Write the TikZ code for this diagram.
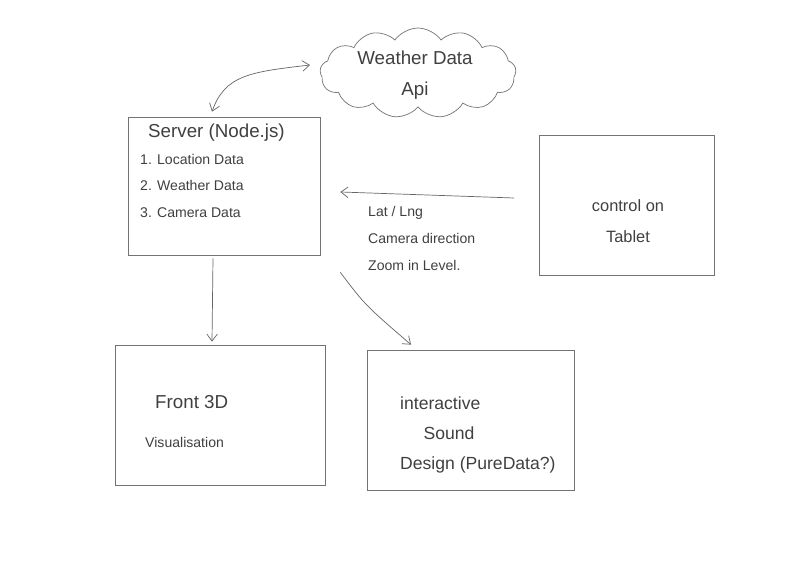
\documentclass[tikz,border=0pt]{standalone}
\usepackage{fontspec}
\setmainfont{Liberation Sans}
\usepackage{tikz}
\usetikzlibrary{calc,shapes.symbols,arrows.meta}
\tikzstyle{sketchbox}=[rectangle,draw=black!55,line width=0.6pt,inner sep=0pt]
\tikzstyle{sketchcloud}=[cloud,cloud puffs=13,cloud puff arc=110,aspect=2.3,
                         draw=black!55,line width=0.6pt,inner sep=0pt]
\tikzstyle{sketchline}=[draw=black!60,line width=0.6pt,-{Straight Barb[length=6pt,width=9pt]}]
\tikzstyle{sketchtext}=[text=black!75,inner sep=0pt]
\newcommand\bigfont{\fontsize{16}{26}\selectfont}
\newcommand\smallfont{\fontsize{12}{22.5}\selectfont}

\begin{document}
\begin{tikzpicture}[x=0.03cm,y=-0.03cm]
    \useasboundingbox[fill=white] (0,0) rectangle (800,573);
    \node [sketchbox,minimum width=192*0.03cm,minimum height=138*0.03cm] (Server) at (224,186) {};
    \node [sketchcloud,minimum width=196*0.03cm,minimum height=90*0.03cm] (Cloud) at (418,73) {};
    \node [sketchbox,minimum width=175*0.03cm,minimum height=140*0.03cm] (Control) at (627,205) {};
    \node [sketchbox,minimum width=210*0.03cm,minimum height=140*0.03cm] (Front) at (220,415) {};
    \node [sketchbox,minimum width=207*0.03cm,minimum height=140*0.03cm] (Sound) at (471,420) {};

    \node [sketchtext,anchor=west,font=\bigfont] (ServerTitle) at (148,133) {Server (Node.js)};
    \node [sketchtext,anchor=north west,align=left,font=\smallfont] (ServerList) at (140,154) {
        1. Location Data\\ 2. Weather Data\\ 3. Camera Data};
    \node [sketchtext,align=center,font=\bigfont] (CloudText) at (415,75) {
        Weather Data\\ Api};
    \node [sketchtext,align=center,font=\fontsize{14}{27}\selectfont] (ControlText) at (628,221) {
        control on\\ Tablet};
    \node [sketchtext,anchor=west,font=\bigfont] (FrontTitle) at (155,402) {Front 3D};
    \node [sketchtext,anchor=west,font=\smallfont] (FrontSub) at (145,442) {Visualisation};
    \node [sketchtext,anchor=north west,align=left,font=\fontsize{15}{25.5}\selectfont] (SoundText) at (400,397) {
        interactive\\ \hspace{20pt}Sound\\ Design (PureData?)};
    \node [sketchtext,anchor=north west,align=left,font=\fontsize{12}{23}\selectfont] (DataLabel) at (368,206) {
        Lat / Lng\\ Camera direction\\ Zoom in Level.};

    \draw [sketchline,{Straight Barb[length=6pt,width=9pt]}-{Straight Barb[length=6pt,width=9pt]}]
        ($(Server.north)+(-12,-5)$) .. controls (225,75) and (250,72) .. ($(Cloud.west)+(-10,-8)$);
    \draw [sketchline] ($(Control.west)+(-25,-7)$) -- ($(Server.east)+(20,6)$);
    \draw [sketchline] ($(Server.south)+(-11,3)$) -- ($(Front.north)+(-8,-3)$);
    \draw [sketchline] ($(Server.south east)+(20,17)$) .. controls (365,305) .. ($(Sound.north)+(-60,-5)$);
\end{tikzpicture}
\end{document}
